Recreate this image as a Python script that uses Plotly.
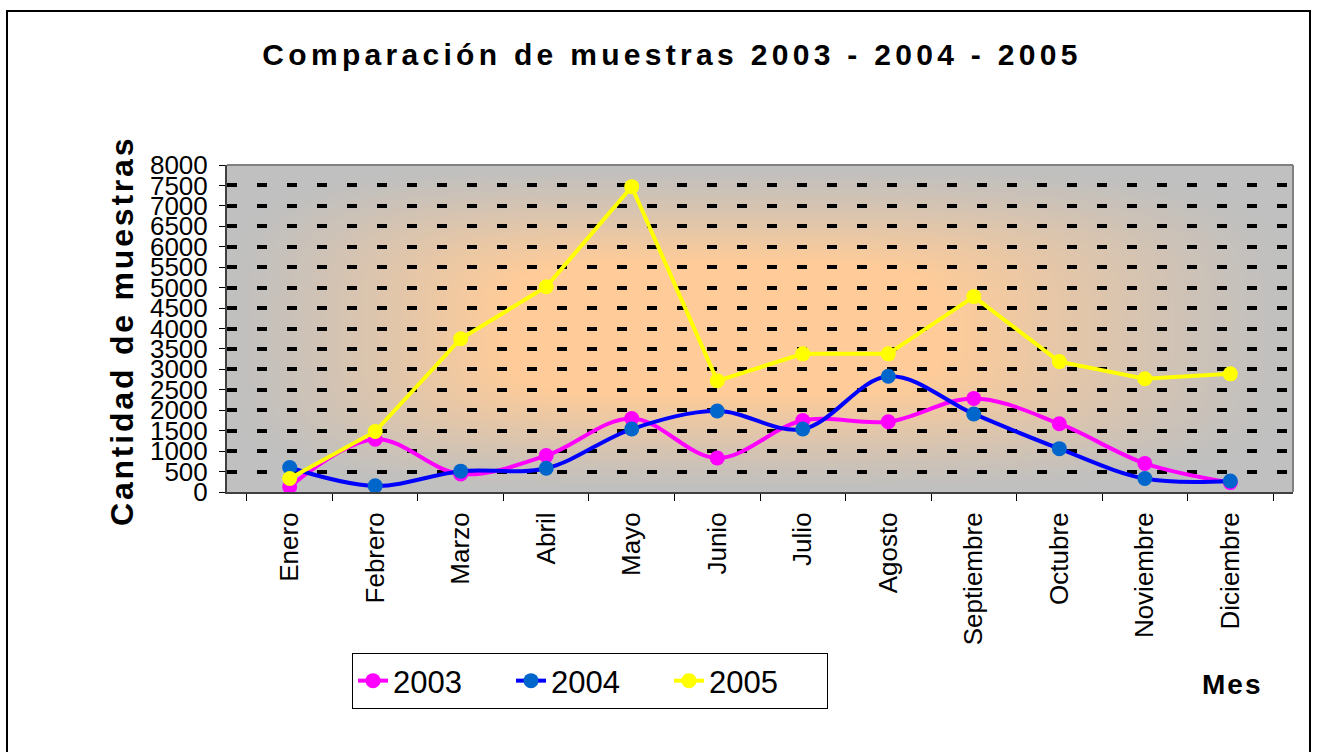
import base64
import struct
import zlib

import numpy as np
import plotly.graph_objects as go

# ---------------- data ----------------
months = ["Enero", "Febrero", "Marzo", "Abril", "Mayo", "Junio", "Julio",
          "Agosto", "Septiembre", "Octubre", "Noviembre", "Diciembre"]
s2003 = [130, 1290, 440, 890, 1800, 830, 1750, 1720, 2290, 1670, 700, 230]
s2004 = [600, 150, 510, 580, 1540, 1980, 1540, 2830, 1910, 1060, 330, 270]
s2005 = [330, 1480, 3750, 5020, 7470, 2720, 3380, 3380, 4780, 3190, 2770, 2890]
y_ticks = list(range(0, 8001, 500))

FONT = "Arial, Liberation Sans, sans-serif"

# ---------------- background gradient image (style only) ----------------
W, H = 533, 164
xs = np.linspace(-1, 1, W)[None, :]
ys = np.linspace(-1, 1, H)[:, None]
xs = (xs + 0.12) / np.where(xs + 0.12 > 0, 1.12, 0.88)
d = (np.abs(xs) ** 4 + np.abs(ys) ** 4) ** 0.25
t = np.clip(1 - d, 0, 1)
t = np.clip(t * 1.7, 0, 1) ** 1.2
gray = np.array([192, 192, 192], dtype=float)
orange = np.array([255, 204, 153], dtype=float)
img = gray[None, None, :] + (orange - gray)[None, None, :] * t[:, :, None]
img = img.astype(np.uint8)


def png_bytes(arr):
    h, w, _ = arr.shape
    raw = b"".join(b"\x00" + arr[r].tobytes() for r in range(h))

    def chunk(tag, data):
        c = struct.pack(">I", len(data)) + tag + data
        return c + struct.pack(">I", zlib.crc32(tag + data) & 0xFFFFFFFF)

    return (b"\x89PNG\r\n\x1a\n"
            + chunk(b"IHDR", struct.pack(">IIBBBBB", w, h, 8, 2, 0, 0, 0))
            + chunk(b"IDAT", zlib.compress(raw, 9))
            + chunk(b"IEND", b""))


bg_uri = "data:image/png;base64," + base64.b64encode(png_bytes(img)).decode()

# ---------------- figure ----------------
fig = go.Figure()
fig.add_trace(go.Scatter(
    x=months, y=s2003, name="2003", mode="lines+markers",
    line=dict(color="#FF00FF", width=4, shape="spline", smoothing=1),
    marker=dict(color="#FF00FF", size=15)))
fig.add_trace(go.Scatter(
    x=months, y=s2004, name="2004", mode="lines+markers",
    line=dict(color="#0000FF", width=4, shape="spline", smoothing=1),
    marker=dict(color="#0066CC", size=15)))
fig.add_trace(go.Scatter(
    x=months, y=s2005, name="2005", mode="lines+markers",
    line=dict(color="#FFFF00", width=4),
    marker=dict(color="#FFFF00", size=15)))

L, R, T, B = 227, 29, 165, 260
pw = 1322 - L - R
ph = 752 - T - B


def px2x(p):
    return (p - L) / pw


def py2y(p):
    return (T + ph - p) / ph


fig.update_layout(
    width=1322, height=752,
    margin=dict(l=L, r=R, t=T, b=B),
    paper_bgcolor="white",
    plot_bgcolor="#C0C0C0",
    font=dict(family=FONT, color="black"),
    title=dict(text="<b>Comparación de muestras 2003 - 2004 - 2005</b>",
               x=672 / 1322, xanchor="center", y=1 - 54 / 752, yanchor="middle",
               font=dict(size=30, family=FONT)),
    showlegend=True,
    legend=dict(orientation="h", x=px2x(352), xanchor="left",
                y=py2y(653), yanchor="top",
                bgcolor="white", bordercolor="black", borderwidth=1,
                entrywidth=113, entrywidthmode="pixels",
                font=dict(size=31, family=FONT)),
    images=[dict(source=bg_uri, xref="paper", yref="paper", x=0, y=1,
                 sizex=1, sizey=1, sizing="stretch", layer="below")],
)

fig.update_xaxes(
    type="category", tickangle=-90, tickson="boundaries",
    ticks="outside", ticklen=7, tickcolor="black", tickwidth=1,
    ticklabelstandoff=8,
    showline=True, linecolor="#404040", linewidth=2,
    showgrid=False, tickfont=dict(size=26, family=FONT),
)
fig.update_yaxes(
    range=[0, 8000], tickvals=y_ticks, ticktext=[str(v) for v in y_ticks],
    ticks="outside", ticklen=6, tickcolor="black",
    ticklabelstandoff=6,
    showline=True, linecolor="#404040", linewidth=2,
    showgrid=True, gridcolor="black", gridwidth=4, griddash="10px,20px",
    zeroline=False, tickfont=dict(size=26, family=FONT),
)

# plot-area top/right border
fig.add_shape(type="line", xref="paper", yref="paper", x0=0, x1=1, y0=1, y1=1,
              line=dict(color="#808080", width=2))
fig.add_shape(type="line", xref="paper", yref="paper", x0=1, x1=1, y0=0, y1=1,
              line=dict(color="#808080", width=2))
# outer chart border
fig.add_shape(type="rect", xref="paper", yref="paper",
              x0=px2x(7), x1=px2x(1310), y0=py2y(11), y1=py2y(770),
              line=dict(color="black", width=2), fillcolor="rgba(0,0,0,0)")

fig.add_annotation(text="<b>Cantidad de muestras</b>", xref="paper", yref="paper",
                   x=px2x(122), y=py2y(331), textangle=-90, showarrow=False,
                   xanchor="center", yanchor="middle",
                   font=dict(size=32, family=FONT))
fig.add_annotation(text="<b>Mes</b>", xref="paper", yref="paper",
                   x=px2x(1232), y=py2y(684), showarrow=False,
                   xanchor="center", yanchor="middle",
                   font=dict(size=28, family=FONT))

post = """
document.body.style.margin = '0';
var gd = document.getElementById('{plot_id}');
function fixSpacing() {
  gd.querySelectorAll('.gtitle').forEach(function (e) { e.style.letterSpacing = '4.3px'; });
  var ann = gd.querySelectorAll('.annotation-text');
  if (ann.length > 0) { ann[0].style.letterSpacing = '2.8px'; }
  if (ann.length > 1) { ann[1].style.letterSpacing = '2px'; }
}
fixSpacing();
gd.on('plotly_afterplot', fixSpacing);
setTimeout(fixSpacing, 50);
"""

fig.write_html("out.html", post_script=post, config={"displayModeBar": False})
